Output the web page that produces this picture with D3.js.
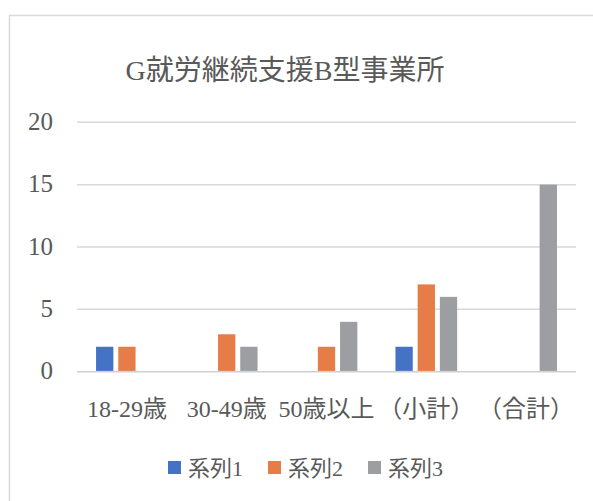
<!DOCTYPE html>
<html>
<head>
<meta charset="utf-8">
<script src="https://cdn.jsdelivr.net/npm/d3@7"></script>
<style>
  body { margin: 0; background: #fff; }
  svg { display: block; }
  text { fill: #595959; }
</style>
</head>
<body>
<div id="chart"></div>
<script>
var width = 593;
var height = 501;

var title = "G就労継続支援B型事業所";
var categories = ["18-29歳", "30-49歳", "50歳以上", "（小計）", "（合計）"];
var seriesNames = ["系列1", "系列2", "系列3"];
var series1 = [2, null, null, 2, null];
var series2 = [2, 3, 2, 7, null];
var series3 = [null, 2, 4, 6, 15];
var yTicks = [0, 5, 10, 15, 20];
var colors = ["#4472c4", "#e67c47", "#9d9ea2"];

var allSeries = [series1, series2, series3];
var fontStack = "'Liberation Serif', 'DejaVu Serif', Tinos, 'Times New Roman', 'Noto Sans CJK JP', serif";

var plotLeft = 77, plotRight = 576, plotTop = 122.3, plotBottom = 371.7;

const svg = d3.select("#chart")
  .append("svg")
  .attr("width", width)
  .attr("height", height)
  .attr("font-family", fontStack);

// chart area border
svg.append("rect")
  .attr("x", 9.5)
  .attr("y", 15.5)
  .attr("width", width + 20)
  .attr("height", height + 20)
  .attr("fill", "#fff")
  .attr("stroke", "#d9d9d9")
  .attr("stroke-width", 1.5);

svg.append("text")
  .attr("x", 285)
  .attr("y", 80)
  .attr("text-anchor", "middle")
  .attr("font-size", 28)
  .text(title);

var y = d3.scaleLinear().domain([0, 20]).range([plotBottom, plotTop]);
var x0 = d3.scaleBand().domain(categories).range([plotLeft, plotRight]);
var x1 = d3.scaleBand().domain(seriesNames)
  .range([x0.bandwidth() / 2 - 33.3, x0.bandwidth() / 2 + 33.3])
  .paddingInner(0.22).paddingOuter(0.11);

// gridlines
svg.append("g")
  .selectAll("line")
  .data(yTicks)
  .join("line")
  .attr("x1", plotLeft)
  .attr("x2", plotRight)
  .attr("y1", d => y(d))
  .attr("y2", d => y(d))
  .attr("stroke", d => d === 0 ? "#d0d0d0" : "#d9d9d9")
  .attr("stroke-width", 1.5);

// y labels
svg.append("g")
  .selectAll("text")
  .data(yTicks)
  .join("text")
  .attr("x", 53)
  .attr("y", d => y(d) + 7.5)
  .attr("text-anchor", "end")
  .attr("font-size", 25)
  .text(d => d);

// bars
var barData = [];
for (let s = 0; s < allSeries.length; s++) {
  for (let i = 0; i < categories.length; i++) {
    if (allSeries[s][i] !== null) {
      barData.push({ cat: categories[i], name: seriesNames[s], value: allSeries[s][i], color: colors[s] });
    }
  }
}

svg.append("g")
  .selectAll("rect")
  .data(barData)
  .join("rect")
  .attr("x", d => x0(d.cat) + x1(d.name))
  .attr("y", d => y(d.value))
  .attr("width", x1.bandwidth())
  .attr("height", d => y(0) - y(d.value) - 0.8)
  .attr("fill", d => d.color);

// x labels
svg.append("g")
  .selectAll("text")
  .data(categories)
  .join("text")
  .attr("x", d => x0(d) + x0.bandwidth() / 2)
  .attr("y", 417)
  .attr("text-anchor", "middle")
  .attr("font-size", 24)
  .text(d => d);

// legend
var legend = svg.append("g")
  .selectAll("g")
  .data(seriesNames)
  .join("g")
  .attr("transform", (d, i) => "translate(" + (168 + i * 100) + ",461)");

legend.append("rect")
  .attr("width", 13)
  .attr("height", 13)
  .attr("fill", (d, i) => colors[i]);

legend.append("text")
  .attr("x", 20)
  .attr("y", 15)
  .attr("font-size", 22)
  .text(d => d);
</script>
</body>
</html>
